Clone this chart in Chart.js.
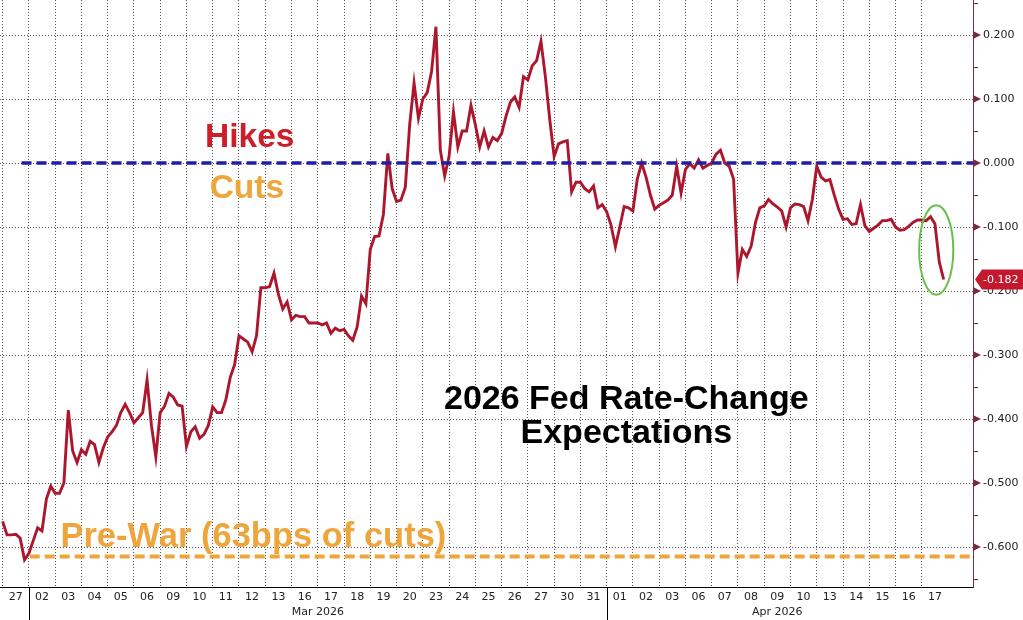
<!DOCTYPE html>
<html>
<head>
<meta charset="utf-8">
<script src="https://cdn.jsdelivr.net/npm/chart.js@4.4.0/dist/chart.umd.min.js"></script>
<style>
html, body { margin: 0; padding: 0; background: #fff; }
#wrap { width: 1023px; height: 620px; position: relative; }
</style>
</head>
<body>
<div id="wrap"><canvas id="chart"></canvas></div>
<script>
// trading days on the x axis (Feb 27 .. Apr 17 2026)
const dayLabels = ['27', '02', '03', '04', '05', '06', '09', '10', '11', '12', '13', '16', '17', '18', '19', '20',
    '23', '24', '25', '26', '27', '30', '31', '01', '02', '03', '06', '07', '08', '09', '10', '13', '14', '15', '16', '17'];
const monthLabels = ['Mar 2026', 'Apr 2026'];
const monthStarts = [1, 23];
const monthEnds = [23, 36];

// right axis tick labels
const yTicks = [0.2, 0.1, 0, -0.1, -0.2, -0.3, -0.4, -0.5, -0.6];

// reference levels
const hikesCutsLevel = 0;
const preWarLevel = -0.615;

// 2026 implied rate change, 6 readings per trading day
const samplesPerDay = 6;
const fedSeries = [
    -0.560, -0.581, -0.581, -0.580, -0.586, -0.620,   // 27 Feb
    -0.610, -0.590, -0.570, -0.575, -0.525, -0.505,   // 02 Mar
    -0.516, -0.516, -0.500, -0.386, -0.450, -0.468,   // 03
    -0.448, -0.455, -0.435, -0.440, -0.468, -0.445,   // 04
    -0.428, -0.420, -0.410, -0.390, -0.377, -0.390,   // 05
    -0.406, -0.398, -0.390, -0.339, -0.410, -0.459,   // 06
    -0.390, -0.380, -0.360, -0.366, -0.378, -0.380,   // 09
    -0.443, -0.420, -0.412, -0.430, -0.424, -0.410,   // 10
    -0.381, -0.390, -0.390, -0.370, -0.335, -0.315,   // 11
    -0.270, -0.275, -0.280, -0.295, -0.270, -0.195,   // 12
    -0.195, -0.193, -0.172, -0.205, -0.228, -0.217,   // 13
    -0.245, -0.238, -0.240, -0.240, -0.250, -0.250,   // 16
    -0.250, -0.253, -0.250, -0.266, -0.258, -0.262,   // 17
    -0.260, -0.270, -0.277, -0.256, -0.208, -0.220,   // 18
    -0.135, -0.115, -0.114, -0.080, 0.015, -0.040,    // 19
    -0.060, -0.058, -0.038, 0.060, 0.125, 0.070,      // 20
    0.100, 0.110, 0.143, 0.213, 0.020, -0.020,        // 23
    0.010, 0.080, 0.025, 0.050, 0.050, 0.090,         // 24
    0.060, 0.025, 0.050, 0.025, 0.040, 0.035,         // 25
    0.046, 0.073, 0.095, 0.103, 0.087, 0.135,         // 26
    0.130, 0.152, 0.160, 0.190, 0.135, 0.068,         // 27
    0.010, 0.030, 0.033, 0.035, -0.045, -0.030,       // 30
    -0.030, -0.040, -0.045, -0.036, -0.070, -0.065,   // 31
    -0.076, -0.097, -0.131, -0.100, -0.068, -0.070,   // 01 Apr
    -0.075, -0.025, 0.000, -0.022, -0.050, -0.072,    // 02
    -0.066, -0.062, -0.058, -0.050, -0.005, -0.047,   // 03
    -0.010, -0.001, -0.008, 0.005, -0.008, -0.004,    // 06
    0.000, 0.014, 0.020, 0.000, -0.005, -0.025,       // 07
    -0.172, -0.135, -0.146, -0.130, -0.093, -0.070,   // 08
    -0.067, -0.057, -0.064, -0.069, -0.075, -0.100,   // 09
    -0.070, -0.064, -0.065, -0.068, -0.090, -0.057,   // 10
    -0.005, -0.022, -0.028, -0.026, -0.050, -0.072,   // 13
    -0.088, -0.087, -0.096, -0.095, -0.065, -0.098,   // 14
    -0.107, -0.102, -0.097, -0.090, -0.090, -0.088,   // 15
    -0.100, -0.105, -0.104, -0.099, -0.093, -0.089,   // 16
    -0.089, -0.090, -0.084, -0.095, -0.155, -0.182    // 17
];

const X_MIN = -0.1;
const X_MAX = 36.95;
const Y_MIN = -0.6625;
const Y_MAX = 0.2547;

const LINE_RED = '#ad172e';
const AXIS_MAROON = '#7b2a45';
const ORANGE = '#eea53c';
const GRID = '#555';
const labelFont = { family: 'DejaVu Sans', size: 11 };
const boldFont = (size) => 'bold ' + size + 'px "Liberation Sans", Arial, sans-serif';

// overlay: annotations, axis markers, month separators, last value tag
const overlay = {
    id: 'overlay',
    afterDraw(chart) {
        const { ctx, chartArea: a } = chart;
        const x = chart.scales.x;
        const y = chart.scales.y;
        const px = (k) => x.getPixelForValue(k);
        const py = (v) => y.getPixelForValue(v);

        ctx.save();

        // texts
        ctx.textBaseline = 'alphabetic';
        ctx.textAlign = 'center';
        ctx.font = boldFont(33.5);
        ctx.fillStyle = '#cc1f2a';
        ctx.fillText('Hikes', px(9.41), py(0.0255));
        ctx.fillStyle = ORANGE;
        ctx.fillText('Cuts', px(9.3), py(-0.0547));
        ctx.font = boldFont(34.5);
        ctx.textAlign = 'left';
        ctx.fillText('Pre-War (63bps of cuts)', px(2.2), py(-0.6));
        ctx.font = boldFont(34);
        ctx.textAlign = 'center';
        ctx.fillStyle = '#000';
        ctx.fillText('2026 Fed Rate-Change', px(23.75), py(-0.384));
        ctx.fillText('Expectations', px(23.75), py(-0.4375));

        // green ellipse around the last drop
        ctx.strokeStyle = '#6abf4b';
        ctx.lineWidth = 2;
        ctx.beginPath();
        const cx = px(35.55), cy = py(-0.136);
        ctx.ellipse(cx, cy, px(36.2) - cx, py(-0.206) - cy, 0, 0, Math.PI * 2);
        ctx.stroke();

        // right axis markers
        ctx.fillStyle = AXIS_MAROON;
        ctx.strokeStyle = AXIS_MAROON;
        ctx.lineWidth = 1;
        yTicks.forEach(v => {
            const ty = py(v);
            ctx.beginPath();
            ctx.moveTo(a.right + 1, ty - 3.5);
            ctx.lineTo(a.right + 8, ty);
            ctx.lineTo(a.right + 1, ty + 3.5);
            ctx.closePath();
            ctx.fill();
        });
        const minors = yTicks.map(v => v + 0.05).concat([yTicks[yTicks.length - 1] - 0.05]);
        minors.forEach(v => {
            const ty = Math.round(py(v)) + 0.5;
            ctx.beginPath();
            ctx.moveTo(a.right, ty);
            ctx.lineTo(a.right + 5, ty);
            ctx.stroke();
        });

        // month separators below the axis
        ctx.strokeStyle = '#000';
        monthStarts.forEach(k => {
            const sx = Math.round(px(k)) + 0.5;
            ctx.beginPath();
            ctx.moveTo(sx, a.bottom);
            ctx.lineTo(sx, chart.height);
            ctx.stroke();
        });

        // last value tag
        const last = fedSeries[fedSeries.length - 1];
        const ly = py(last);
        ctx.fillStyle = '#c4182f';
        ctx.beginPath();
        ctx.moveTo(a.right + 2, ly);
        ctx.lineTo(a.right + 9, ly - 10);
        ctx.lineTo(chart.width, ly - 10);
        ctx.lineTo(chart.width, ly + 10);
        ctx.lineTo(a.right + 9, ly + 10);
        ctx.closePath();
        ctx.fill();
        ctx.fillStyle = '#fff';
        ctx.font = '11px "DejaVu Sans", sans-serif';
        ctx.textAlign = 'left';
        ctx.textBaseline = 'middle';
        ctx.fillText(last.toFixed(3), a.right + 10, ly + 0.5);

        ctx.restore();
    }
};

const seriesPoints = fedSeries.map((v, i) => ({ x: i / samplesPerDay, y: v }));

new Chart(document.getElementById('chart'), {
    type: 'line',
    data: {
        datasets: [
            {
                data: [{ x: 0.72, y: hikesCutsLevel }, { x: X_MAX, y: hikesCutsLevel }],
                borderColor: '#1e1ea8',
                borderWidth: 3.5,
                borderDash: [10, 5],
                pointRadius: 0
            },
            {
                data: [{ x: 1.03, y: preWarLevel }, { x: X_MAX, y: preWarLevel }],
                borderColor: ORANGE,
                borderWidth: 4,
                borderDash: [10, 5],
                pointRadius: 0
            },
            {
                data: seriesPoints,
                borderColor: LINE_RED,
                borderWidth: 2.9,
                pointRadius: 0,
                tension: 0
            }
        ]
    },
    options: {
        responsive: true,
        maintainAspectRatio: false,
        animation: false,
        layout: { padding: 0 },
        plugins: {
            legend: { display: false },
            tooltip: { enabled: false }
        },
        scales: {
            x: {
                type: 'linear',
                position: 'bottom',
                min: X_MIN,
                max: X_MAX,
                bounds: 'data',
                weight: 0,
                afterBuildTicks: (scale) => {
                    scale.ticks = dayLabels.map((_, i) => ({ value: i }));
                },
                afterFit: (scale) => { scale.height = 0; },
                ticks: { display: false },
                grid: { color: GRID, lineWidth: 1, drawTicks: false },
                border: { display: true, color: '#000', width: 1, dash: [1, 2] }
            },
            xd: {
                type: 'linear',
                position: 'bottom',
                min: X_MIN,
                max: X_MAX,
                bounds: 'data',
                weight: 1,
                afterBuildTicks: (scale) => {
                    scale.ticks = dayLabels.map((_, i) => ({ value: i + 0.5 }));
                },
                afterFit: (scale) => { scale.height = 17; },
                ticks: {
                    autoSkip: false,
                    maxRotation: 0,
                    padding: 4,
                    color: '#222',
                    font: labelFont,
                    callback: (v, i) => dayLabels[i]
                },
                grid: { display: false, drawTicks: false },
                border: { display: false }
            },
            xm: {
                type: 'linear',
                position: 'bottom',
                min: X_MIN,
                max: X_MAX,
                bounds: 'data',
                weight: 2,
                afterBuildTicks: (scale) => {
                    scale.ticks = monthLabels.map((_, i) => ({ value: (monthStarts[i] + monthEnds[i]) / 2 }));
                },
                afterFit: (scale) => { scale.height = 16; },
                ticks: {
                    autoSkip: false,
                    maxRotation: 0,
                    padding: 2,
                    color: '#222',
                    font: labelFont,
                    callback: (v, i) => monthLabels[i]
                },
                grid: { display: false, drawTicks: false },
                border: { display: false }
            },
            y: {
                type: 'linear',
                position: 'right',
                min: Y_MIN,
                max: Y_MAX,
                bounds: 'data',
                afterBuildTicks: (scale) => {
                    scale.ticks = yTicks.map(v => ({ value: v }));
                },
                afterFit: (scale) => {
                    scale.width = 50;
                    scale.paddingTop = 0;
                    scale.paddingBottom = 0;
                },
                ticks: {
                    padding: 2,
                    color: '#222',
                    font: labelFont,
                    callback: (v) => v.toFixed(3)
                },
                grid: {
                    color: GRID,
                    lineWidth: 1,
                    drawTicks: true,
                    tickLength: 8,
                    tickColor: 'rgba(0,0,0,0)'
                },
                border: { display: true, color: AXIS_MAROON, width: 1, dash: [1, 2] }
            }
        }
    },
    plugins: [overlay]
});
</script>
</body>
</html>
